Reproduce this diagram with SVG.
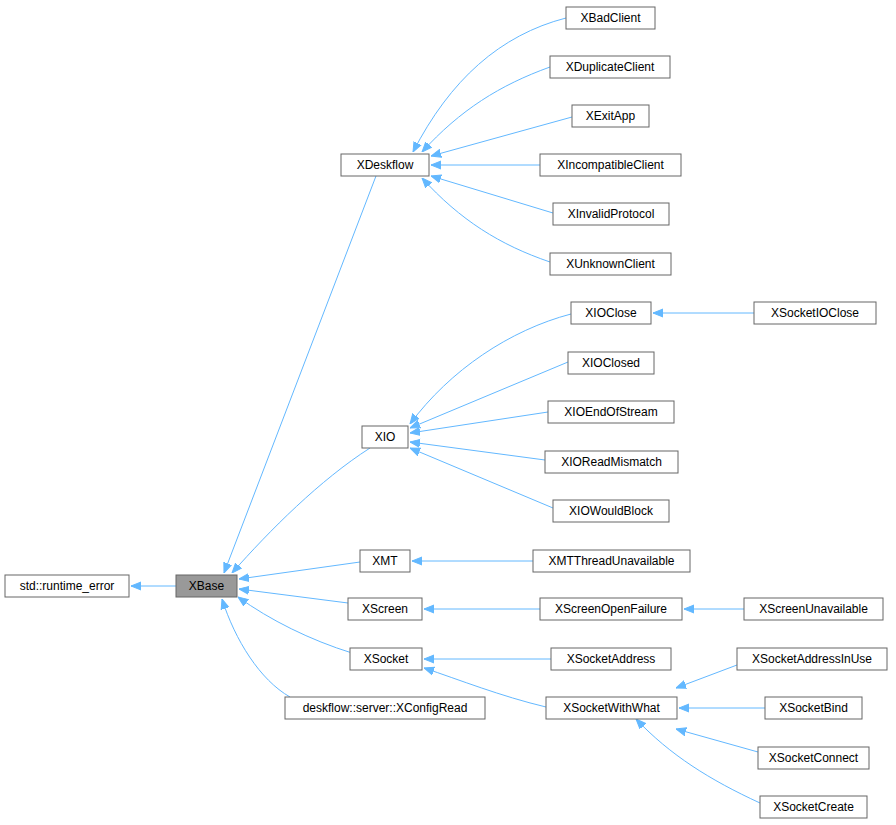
<svg xmlns="http://www.w3.org/2000/svg" width="896" height="825" viewBox="0 0 896 825">
<style>
.n rect{fill:#fff;stroke:#666;stroke-width:1}
.n text{font-family:"Liberation Sans",Arial,sans-serif;font-size:12px;text-anchor:middle;fill:#000}
#edges path{fill:none;stroke:#63b8ff;stroke-width:1;marker-end:url(#a)}
</style>
<defs><marker id="a" viewBox="0 0 10 10" refX="10" refY="5" markerWidth="10" markerHeight="10" markerUnits="userSpaceOnUse" orient="auto"><path d="M0,1L10,5L0,9z" fill="#63b8ff" stroke="#63b8ff"/></marker></defs>
<rect width="896" height="825" fill="#fff"/>
<g id="edges">
<path d="M176,586H131"/>
<path d="M376,176L224,573"/>
<path d="M370,448C320,480 270,530 232,573"/>
<path d="M360,562L239,579"/>
<path d="M348,603L239,589"/>
<path d="M352,653C310,640 270,620 238,597"/>
<path d="M290,697C260,680 235,640 222,599"/>
<path d="M566,18C500,35 450,80 413,152"/>
<path d="M550,67C500,85 460,110 422,152"/>
<path d="M572,117L431,156"/>
<path d="M540,165H431"/>
<path d="M553,213L431,176"/>
<path d="M550,262C500,245 460,220 422,178"/>
<path d="M754,313H653"/>
<path d="M571,314C510,330 450,370 410,424"/>
<path d="M568,362L410,428"/>
<path d="M548,412L410,433"/>
<path d="M545,460L410,442"/>
<path d="M553,508L410,448"/>
<path d="M533,561H412"/>
<path d="M744,609H684"/>
<path d="M540,609H424"/>
<path d="M551,659H424"/>
<path d="M546,707C500,696 460,680 424,668"/>
<path d="M737,665L676,688"/>
<path d="M765,708H679"/>
<path d="M758,752L676,729"/>
<path d="M760,803C710,780 670,755 636,719"/>
</g>
<g id="n0" class="n"><rect x="5" y="575" width="124" height="22"/><text x="67" y="590">std::runtime_error</text></g>
<g id="n1" class="n"><rect x="176" y="575" width="61" height="22" style="fill:#999"/><text x="206.5" y="590">XBase</text></g>
<g id="n2" class="n"><rect x="341" y="154" width="88" height="22"/><text x="385" y="169">XDeskflow</text></g>
<g id="n3" class="n"><rect x="566" y="7" width="89" height="22"/><text x="610.5" y="22">XBadClient</text></g>
<g id="n4" class="n"><rect x="550" y="56" width="120" height="22"/><text x="610" y="71">XDuplicateClient</text></g>
<g id="n5" class="n"><rect x="572" y="105" width="77" height="22"/><text x="610.5" y="120">XExitApp</text></g>
<g id="n6" class="n"><rect x="540" y="154" width="141" height="22"/><text x="610.5" y="169">XIncompatibleClient</text></g>
<g id="n7" class="n"><rect x="553" y="203" width="116" height="22"/><text x="611" y="218">XInvalidProtocol</text></g>
<g id="n8" class="n"><rect x="550" y="253" width="121" height="22"/><text x="610.5" y="268">XUnknownClient</text></g>
<g id="n9" class="n"><rect x="571" y="302" width="80" height="22"/><text x="611" y="317">XIOClose</text></g>
<g id="n10" class="n"><rect x="754" y="302" width="122" height="22"/><text x="815" y="317">XSocketIOClose</text></g>
<g id="n11" class="n"><rect x="568" y="352" width="86" height="22"/><text x="611" y="367">XIOClosed</text></g>
<g id="n12" class="n"><rect x="548" y="401" width="126" height="22"/><text x="611" y="416">XIOEndOfStream</text></g>
<g id="n13" class="n"><rect x="545" y="451" width="133" height="22"/><text x="611.5" y="466">XIOReadMismatch</text></g>
<g id="n14" class="n"><rect x="553" y="500" width="116" height="22"/><text x="611" y="515">XIOWouldBlock</text></g>
<g id="n15" class="n"><rect x="362" y="426" width="46" height="22"/><text x="385" y="441">XIO</text></g>
<g id="n16" class="n"><rect x="360" y="550" width="50" height="22"/><text x="385" y="565">XMT</text></g>
<g id="n17" class="n"><rect x="533" y="550" width="157" height="22"/><text x="611.5" y="565">XMTThreadUnavailable</text></g>
<g id="n18" class="n"><rect x="348" y="598" width="74" height="22"/><text x="385" y="613">XScreen</text></g>
<g id="n19" class="n"><rect x="540" y="598" width="142" height="22"/><text x="611" y="613">XScreenOpenFailure</text></g>
<g id="n20" class="n"><rect x="744" y="598" width="139" height="22"/><text x="813.5" y="613">XScreenUnavailable</text></g>
<g id="n21" class="n"><rect x="350" y="648" width="72" height="22"/><text x="386" y="663">XSocket</text></g>
<g id="n22" class="n"><rect x="551" y="648" width="120" height="22"/><text x="611" y="663">XSocketAddress</text></g>
<g id="n23" class="n"><rect x="737" y="648" width="150" height="22"/><text x="812" y="663">XSocketAddressInUse</text></g>
<g id="n24" class="n"><rect x="285" y="697" width="200" height="22"/><text x="385" y="712">deskflow::server::XConfigRead</text></g>
<g id="n25" class="n"><rect x="546" y="697" width="131" height="22"/><text x="611.5" y="712">XSocketWithWhat</text></g>
<g id="n26" class="n"><rect x="765" y="697" width="97" height="22"/><text x="813.5" y="712">XSocketBind</text></g>
<g id="n27" class="n"><rect x="758" y="747" width="111" height="22"/><text x="813.5" y="762">XSocketConnect</text></g>
<g id="n28" class="n"><rect x="760" y="796" width="107" height="22"/><text x="813.5" y="811">XSocketCreate</text></g>
</svg>
